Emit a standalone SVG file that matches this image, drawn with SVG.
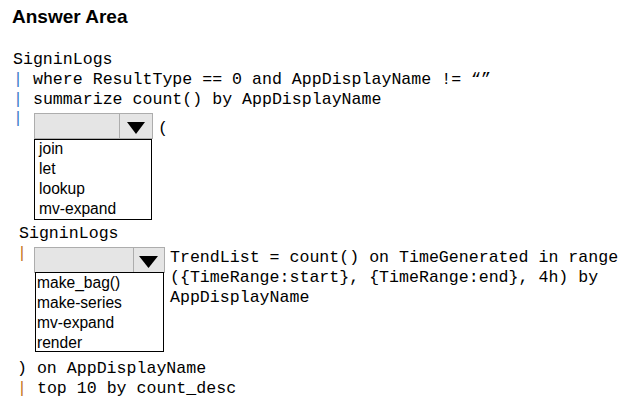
<svg xmlns="http://www.w3.org/2000/svg" width="624" height="405" viewBox="0 0 624 405">
<style>
.title{font-family:"Liberation Sans",Arial,sans-serif;font-weight:bold;font-size:19px;fill:#000}
.code{font-family:"Liberation Mono","Courier New",monospace;font-size:16.6px;fill:#000;white-space:pre}
.opt{font-family:"Liberation Sans",Arial,sans-serif;font-size:15.6px;fill:#000}
.pb{fill:#3a78c8}
.po{fill:#c47420}
.combo{fill:#e5e5e5;stroke:#adadad;stroke-width:1}
.div{stroke:#adadad;stroke-width:1}
.list{fill:#fff;stroke:#000;stroke-width:1}
</style>
<rect width="624" height="405" fill="#fff"/>
<text class="title" x="12" y="23">Answer Area</text>
<g id="code">
<text class="code" x="13" y="64" xml:space="preserve">SigninLogs</text>
<text class="code" x="13" y="84" xml:space="preserve"><tspan class="pb">|</tspan> where ResultType == 0 and AppDisplayName != “”</text>
<text class="code" x="13" y="104" xml:space="preserve"><tspan class="pb">|</tspan> summarize count() by AppDisplayName</text>
<text class="code" x="13" y="123" xml:space="preserve"><tspan class="pb">|</tspan></text>
<text class="code" x="158" y="133" xml:space="preserve">(</text>
<text class="code" x="19" y="238" xml:space="preserve">SigninLogs</text>
<text class="code" x="17" y="258" xml:space="preserve"><tspan class="po">|</tspan></text>
<text class="code" x="170" y="262" xml:space="preserve">TrendList = count() on TimeGenerated in range</text>
<text class="code" x="170" y="282" xml:space="preserve">({TimeRange:start}, {TimeRange:end}, 4h) by</text>
<text class="code" x="170" y="302" xml:space="preserve">AppDisplayName</text>
<text class="code" x="17" y="373" xml:space="preserve">) on AppDisplayName</text>
<text class="code" x="17" y="393" xml:space="preserve"><tspan class="po">|</tspan> top 10 by count_desc</text>
</g>
<g id="dropdown1">
<rect class="combo" x="34.5" y="113.5" width="118" height="25"/>
<line class="div" x1="119.5" y1="113.5" x2="119.5" y2="138.5"/>
<polygon points="127,122 145,122 136,134" fill="#000"/>
<rect class="list" x="34.5" y="139.5" width="117" height="80"/>
<text class="opt" x="39" y="154">join</text>
<text class="opt" x="39" y="174">let</text>
<text class="opt" x="39" y="194">lookup</text>
<text class="opt" x="39" y="214">mv-expand</text>
</g>
<g id="dropdown2">
<rect class="combo" x="34.5" y="247.5" width="130" height="25"/>
<line class="div" x1="133.5" y1="247.5" x2="133.5" y2="272.5"/>
<polygon points="139,256 158,256 148.5,268" fill="#000"/>
<rect class="list" x="35.5" y="272.5" width="128" height="79"/>
<text class="opt" x="37" y="288">make_bag()</text>
<text class="opt" x="37" y="308">make-series</text>
<text class="opt" x="37" y="328">mv-expand</text>
<text class="opt" x="37" y="348">render</text>
</g>
</svg>
